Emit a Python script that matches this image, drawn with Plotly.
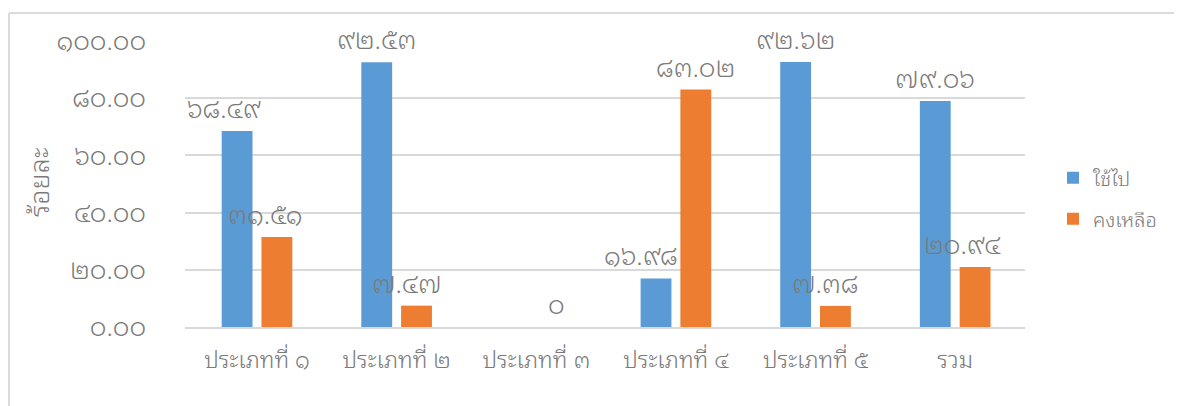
import plotly.graph_objects as go

categories = ["ประเภทที่ ๑", "ประเภทที่ ๒", "ประเภทที่ ๓", "ประเภทที่ ๔", "ประเภทที่ ๕", "รวม"]
used = [68.49, 92.53, None, 16.98, 92.62, 79.06]
remaining = [31.51, 7.47, 0, 83.02, 7.38, 20.94]
series_names = ["ใช้ไป", "คงเหลือ"]
y_ticks = [0, 20, 40, 60, 80, 100]
y_title = "ร้อยละ"

# label horizontal nudges (px), style only
used_label_dx = [-13, 0, 0, -15, 0, 0]
remaining_label_dx = [-12, -10, 0, 0, -11, -13]

TH = str.maketrans("0123456789", "๐๑๒๓๔๕๖๗๘๙")


def thai(s):
    return s.translate(TH)


def fmt_val(v):
    if v == 0:
        return thai("0")
    return thai(f"{v:.2f}")


FONT = ("Leelawadee UI, Leelawadee, Tahoma, Noto Sans Thai Looped, Garuda, Loma, Waree, "
        "Kinnari, Norasi, Noto Sans Thai, sans-serif")
TXT = "#7a7a7a"
BLUE = "#5b9bd5"
ORANGE = "#ed7d31"
WT = 300

W, H = 1174, 398
L, R, T, B = 177, 157, 33, 79
PW, PH = W - L - R, H - T - B

fig = go.Figure()
fig.add_trace(go.Bar(x=categories, y=used, name=series_names[0], marker_color=BLUE,
                     marker_line_width=0, legendgroup="a"))
fig.add_trace(go.Bar(x=categories, y=remaining, name=series_names[1], marker_color=ORANGE,
                     marker_line_width=0, legendgroup="b"))

ann = []
for i, c in enumerate(categories):
    for vals, dxs, side in ((used, used_label_dx, -20), (remaining, remaining_label_dx, 20)):
        v = vals[i]
        if v is None:
            continue
        ann.append(dict(x=c, y=v, xref="x", yref="y", text=fmt_val(v), showarrow=False,
                        xshift=side + dxs[i], yshift=25, yanchor="middle",
                        font=dict(family=FONT, size=26, color=TXT, weight=WT)))

ann.append(dict(x=-149 / PW, y=1 - (182 - 8 - T) / PH, xref="paper", yref="paper",
                text=y_title, showarrow=False, textangle=-90, xanchor="center",
                yanchor="middle", font=dict(family=FONT, size=27, color=TXT, weight=WT)))

bx = (1 - L) / PW
by = 1 + 28 / PH

fig.update_layout(
    width=W, height=H,
    margin=dict(l=L, r=R, t=T, b=B, autoexpand=False),
    paper_bgcolor="white", plot_bgcolor="white",
    barmode="group", bargap=0.43, bargroupgap=0.225,
    font=dict(family=FONT, size=18, color=TXT, weight=WT),
    showlegend=True,
    legend=dict(x=868 / PW, y=0.45, xanchor="left", yanchor="middle",
                font=dict(family=FONT, size=20, color=TXT, weight=WT),
                traceorder="grouped", tracegroupgap=12, itemwidth=30),
    annotations=ann,
    shapes=[
        dict(type="line", xref="paper", yref="paper", x0=bx, x1=(W + 20 - L) / PW, y0=by, y1=by,
             line=dict(color="#cfcfcf", width=1.5)),
        dict(type="line", xref="paper", yref="paper", x0=bx, x1=bx, y0=by, y1=-(B + 20) / PH,
             line=dict(color="#cfcfcf", width=1.5)),
    ],
)
fig.update_xaxes(showgrid=False, showline=True, linecolor="#d9d9d9", linewidth=1.5,
                 ticks="", ticklabelstandoff=12, automargin=False,
                 tickfont=dict(family=FONT, size=23, color=TXT, weight=WT))
fig.update_yaxes(range=[0, 100], tickvals=y_ticks,
                 ticktext=[thai(f"{t:.2f}") for t in y_ticks],
                 showgrid=True, gridcolor="#d9d9d9", gridwidth=1.5, zeroline=False,
                 showline=False, ticks="", ticklabelstandoff=38, automargin=False,
                 tickfont=dict(family=FONT, size=26, color=TXT, weight=WT))

fig.write_html("out.html")
